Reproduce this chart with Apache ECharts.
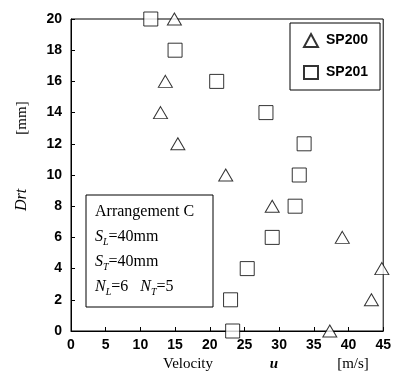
<!DOCTYPE html>
<html>
<head>
<meta charset="utf-8">
<script src="https://cdn.jsdelivr.net/npm/echarts@6/dist/echarts.min.js"></script>
<style>
  html, body { margin: 0; padding: 0; background: #fff; }
  #chart { width: 394px; height: 376px; }
</style>
</head>
<body>
<div id="chart"></div>
<script>
// velocity u [m/s] vs Drt [mm]
const sp200 = [
  [14.9, 20], [13.6, 16], [12.9, 14], [15.4, 12], [22.3, 10],
  [29.0, 8], [39.1, 6], [44.8, 4], [43.3, 2], [37.3, 0]
];
const sp201 = [
  [11.5, 20], [15.0, 18], [21.0, 16], [28.1, 14], [33.6, 12],
  [32.9, 10], [32.3, 8], [29.0, 6], [25.4, 4], [23.0, 2], [23.3, 0]
];
const seriesNames = ["SP200", "SP201"];
const noteLines = [
  "{n|Arrangement C}",
  "{i|S}{sub|L}{n|=40mm}",
  "{i|S}{sub|T}{n|=40mm}",
  "{i|N}{sub|L}{n|=6   }{i|N}{sub|T}{n|=5}"
];

const chart = echarts.init(document.getElementById("chart"));

const tickFont = { color: "#000", fontFamily: "Liberation Sans, Arial", fontWeight: "bold", fontSize: 14 };
const serif = "Liberation Serif, Times New Roman, serif";

const markerStyle = { color: "#fff", borderColor: "#000", borderWidth: 1 };

chart.setOption({
  animation: false,
  grid: {
    left: 71, right: 6, top: 19, bottom: 45,
    show: true, borderColor: "#000", borderWidth: 1, backgroundColor: "transparent"
  },
  xAxis: {
    type: "value", min: 0, max: 45, interval: 5,
    axisLine: { lineStyle: { color: "#000", width: 1 } },
    axisTick: { inside: true, length: 4, lineStyle: { color: "#000" } },
    axisLabel: { ...tickFont, margin: 7 },
    splitLine: { show: false }
  },
  yAxis: {
    type: "value", min: 0, max: 20, interval: 2,
    axisLine: { show: true, lineStyle: { color: "#000", width: 1 } },
    axisTick: { show: true, inside: true, length: 4, lineStyle: { color: "#000" } },
    axisLabel: { ...tickFont, margin: 9 },
    splitLine: { show: false }
  },
  legend: {
    left: 290, top: 23,
    orient: "vertical",
    backgroundColor: "#fff",
    borderColor: "#000", borderWidth: 1,
    padding: [10, 12, 10, 13],
    itemWidth: 14, itemHeight: 13, itemGap: 17,
    textStyle: { color: "#000", fontFamily: "Liberation Sans, Arial", fontWeight: "bold", fontSize: 14, padding: [0, 0, 0, 3] },
    data: seriesNames
  },
  series: [
    {
      name: seriesNames[0], type: "scatter", symbol: "triangle", symbolSize: [14, 12],
      itemStyle: markerStyle, clip: false, data: sp200
    },
    {
      name: seriesNames[1], type: "scatter", symbol: "rect", symbolSize: 14,
      itemStyle: markerStyle, clip: false, data: sp201
    }
  ],
  graphic: [
    {
      type: "rect", z: 10,
      shape: { x: 86, y: 195, width: 127, height: 112 },
      style: { fill: "#fff", stroke: "#000", lineWidth: 1 }
    },
    ...noteLines.map((t, i) => ({
      type: "text", z: 11, left: 95, top: 204 + i * 25,
      style: {
        text: t, fill: "#000", fontFamily: serif, fontSize: 16,
        rich: {
          n: { fontFamily: serif, fontSize: 16, lineHeight: 20, verticalAlign: "bottom" },
          i: { fontFamily: serif, fontStyle: "italic", fontSize: 16, lineHeight: 20, verticalAlign: "bottom" },
          sub: { fontFamily: serif, fontStyle: "italic", fontSize: 10, lineHeight: 20, verticalAlign: "bottom", padding: [0, 0, -2, 0] }
        }
      }
    })),
    {
      type: "text", x: 22, y: 118, rotation: Math.PI / 2,
      style: { text: "[mm]", fill: "#000", fontFamily: serif, fontSize: 15, align: "center", verticalAlign: "middle" }
    },
    {
      type: "text", x: 22, y: 200, rotation: Math.PI / 2,
      style: { text: "Drt", fill: "#000", fontFamily: serif, fontStyle: "italic", fontSize: 16, align: "center", verticalAlign: "middle" }
    },
    {
      type: "text", x: 188, y: 364,
      style: { text: "Velocity", fill: "#000", fontFamily: serif, fontSize: 15, align: "center", verticalAlign: "middle" }
    },
    {
      type: "text", x: 274, y: 364,
      style: { text: "u", fill: "#000", fontFamily: serif, fontStyle: "italic", fontWeight: "bold", fontSize: 15, align: "center", verticalAlign: "middle" }
    },
    {
      type: "text", x: 353, y: 364,
      style: { text: "[m/s]", fill: "#000", fontFamily: serif, fontSize: 15, align: "center", verticalAlign: "middle" }
    }
  ]
});
</script>
</body>
</html>
